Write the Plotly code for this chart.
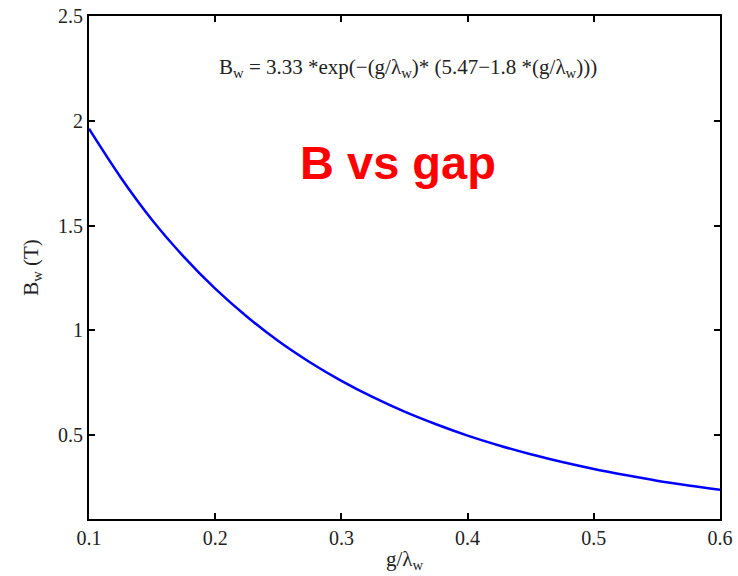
import plotly.graph_objects as go

# values
gap_ratio = [0.10, 0.125, 0.15, 0.175, 0.20, 0.225, 0.25, 0.275, 0.30, 0.325, 0.35, 0.375, 0.40,
             0.425, 0.45, 0.475, 0.50, 0.525, 0.55, 0.575, 0.60]
field_T = [1.962, 1.731, 1.527, 1.352, 1.199, 1.066, 0.949, 0.848, 0.759, 0.681, 0.612,
           0.552, 0.498, 0.451, 0.409, 0.372, 0.339, 0.310, 0.283, 0.260, 0.239]
x_ticks = [0.1, 0.2, 0.3, 0.4, 0.5, 0.6]
y_ticks = [0.5, 1, 1.5, 2, 2.5]

serif = "Liberation Serif, Times New Roman, serif"

fig = go.Figure()
fig.add_trace(go.Scatter(x=gap_ratio, y=field_T, mode="lines",
                         line=dict(color="#0000ff", width=2.5, shape="spline"),
                         showlegend=False))

axis_common = dict(showgrid=False, zeroline=False, showline=True, linecolor="black",
                   linewidth=2, mirror="ticks", ticks="inside", ticklen=6,
                   tickwidth=1.5, tickcolor="black", automargin=False,
                   tickfont=dict(family=serif, size=20, color="#222"))

fig.update_xaxes(range=[0.1, 0.6], tickvals=x_ticks, ticktext=["0.1", "0.2", "0.3", "0.4", "0.5", "0.6"],
                 title=dict(text="g/λ<sub>w</sub>", font=dict(family=serif, size=21, color="#222"),
                            standoff=3),
                 **axis_common)
fig.update_yaxes(range=[0.1, 2.5], tickvals=y_ticks, ticktext=["0.5", "1", "1.5", "2", "2.5"],
                 title=dict(text="B<sub>w</sub> (T)", font=dict(family=serif, size=21, color="#222"),
                            standoff=14),
                 **axis_common)

fig.add_annotation(text="B<sub>w</sub> = 3.33 *exp(−(g/λ<sub>w</sub>)* (5.47−1.8 *(g/λ<sub>w</sub>)))",
                   xref="paper", yref="paper", x=0.506, y=0.897, xanchor="center", yanchor="middle",
                   showarrow=False, font=dict(family=serif, size=21, color="#222"))
fig.add_annotation(text="<b>B vs gap</b>", xref="paper", yref="paper", x=0.49, y=0.708,
                   xanchor="center", yanchor="middle", showarrow=False,
                   font=dict(family="Liberation Sans, Arial, sans-serif", size=47, color="#ff0000"))

fig.update_layout(width=738, height=576, plot_bgcolor="white", paper_bgcolor="white",
                  margin=dict(l=89, r=18, t=16, b=57))

fig.write_html("out.html", config={"displayModeBar": False},
               post_script="document.body.style.margin='0';")
